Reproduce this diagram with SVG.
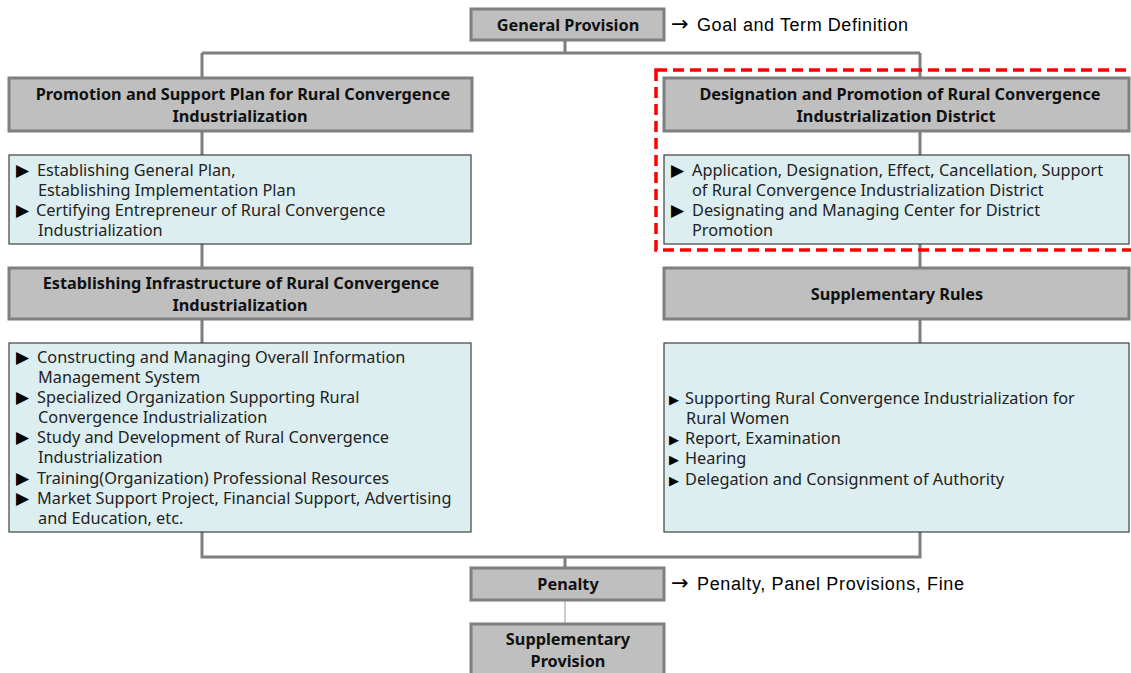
<svg xmlns="http://www.w3.org/2000/svg" width="1131" height="673" viewBox="0 0 1131 673">
<style>
.hdr{fill:#bfbfbf;stroke:#7f7f7f;stroke-width:3}
.cnt{fill:#ddeef1;stroke:#404040;stroke-width:1.2}
.ht{font-family:"Noto Sans","DejaVu Sans",sans-serif;font-weight:bold;font-size:16.3px;fill:#111;text-anchor:middle}
.ct{font-family:"Noto Sans","DejaVu Sans",sans-serif;font-size:16.3px;fill:#222}
.bl{font-family:"DejaVu Sans",sans-serif;font-size:17px;fill:#000}
.bs{font-family:"DejaVu Sans",sans-serif;font-size:13px;fill:#000}
.note{font-family:"Liberation Sans",Arial,sans-serif;font-size:18px;fill:#000}
.arr{font-family:"DejaVu Sans",sans-serif;font-size:21px;fill:#000}
.conn{fill:none;stroke:#7f7f7f;stroke-width:3}
</style>
<rect width="1131" height="673" fill="#fff"/>
<g id="connectors">
<path class="conn" d="M565 40V53M202 53H920M202 53V78M920 53V78"/>
<path class="conn" d="M202 131V155M202 244V268M202 319V343"/>
<path class="conn" d="M920 131V155M920 244V268M920 319V343"/>
<path class="conn" d="M202 532V557H920V532M565 557V568"/>
<path fill="none" stroke="#aaaaaa" stroke-width="1.2" d="M565 600V624"/>
</g>
<g id="general">
<rect class="hdr" x="471" y="9" width="193" height="31"/>
<text class="ht" x="568" y="31">General Provision</text>
<text class="arr" x="671" y="31">→</text>
<text class="note" x="697" y="31" textLength="211" lengthAdjust="spacing">Goal and Term Definition</text>
</g>
<g id="left-header-1">
<rect class="hdr" x="9" y="78" width="463" height="53"/>
<text class="ht" x="243" y="100">Promotion and Support Plan for Rural Convergence</text>
<text class="ht" x="240" y="122">Industrialization</text>
</g>
<g id="left-content-1">
<rect class="cnt" x="9" y="155" width="462" height="89"/>
<text class="bl" x="16" y="176">▶</text>
<text class="ct" x="37" y="176">Establishing General Plan,</text>
<text class="ct" x="38" y="196">Establishing Implementation Plan</text>
<text class="bl" x="16" y="216">▶</text>
<text class="ct" x="36" y="216">Certifying Entrepreneur of Rural Convergence</text>
<text class="ct" x="38" y="236">Industrialization</text>
</g>
<g id="left-header-2">
<rect class="hdr" x="9" y="268" width="463" height="51"/>
<text class="ht" x="241" y="289">Establishing Infrastructure of Rural Convergence</text>
<text class="ht" x="240" y="311">Industrialization</text>
</g>
<g id="left-content-2">
<rect class="cnt" x="9" y="343" width="462" height="189"/>
<text class="bl" x="16" y="363">▶</text>
<text class="ct" x="37" y="363">Constructing and Managing Overall Information</text>
<text class="ct" x="38" y="383">Management System</text>
<text class="bl" x="16" y="403">▶</text>
<text class="ct" x="37" y="403">Specialized Organization Supporting Rural</text>
<text class="ct" x="38" y="423">Convergence Industrialization</text>
<text class="bl" x="16" y="443">▶</text>
<text class="ct" x="37" y="443">Study and Development of Rural Convergence</text>
<text class="ct" x="38" y="463">Industrialization</text>
<text class="bl" x="16" y="484">▶</text>
<text class="ct" x="37" y="484">Training(Organization) Professional Resources</text>
<text class="bl" x="16" y="504">▶</text>
<text class="ct" x="37" y="504">Market Support Project, Financial Support, Advertising</text>
<text class="ct" x="38" y="524">and Education, etc.</text>
</g>
<g id="right-header-1">
<rect class="hdr" x="664" y="78" width="465" height="53"/>
<text class="ht" x="900" y="100">Designation and Promotion of Rural Convergence</text>
<text class="ht" x="896" y="122">Industrialization District</text>
</g>
<g id="right-content-1">
<rect class="cnt" x="664" y="155" width="465" height="89"/>
<text class="bl" x="671" y="176">▶</text>
<text class="ct" x="692" y="176">Application, Designation, Effect, Cancellation, Support</text>
<text class="ct" x="692" y="196">of Rural Convergence Industrialization District</text>
<text class="bl" x="671" y="216">▶</text>
<text class="ct" x="692" y="216">Designating and Managing Center for District</text>
<text class="ct" x="692" y="236">Promotion</text>
</g>
<rect id="highlight" x="656" y="70" width="480" height="180" fill="none" stroke="#ff0000" stroke-width="3.5" stroke-dasharray="11 6"/>
<g id="right-header-2">
<rect class="hdr" x="664" y="268" width="465" height="51"/>
<text class="ht" x="897" y="300">Supplementary Rules</text>
</g>
<g id="right-content-2">
<rect class="cnt" x="664" y="343" width="465" height="189"/>
<text class="bs" x="669" y="404">▶</text>
<text class="ct" x="685" y="404">Supporting Rural Convergence Industrialization for</text>
<text class="ct" x="686" y="424">Rural Women</text>
<text class="bs" x="669" y="444">▶</text>
<text class="ct" x="685" y="444">Report, Examination</text>
<text class="bs" x="669" y="464">▶</text>
<text class="ct" x="685" y="464">Hearing</text>
<text class="bs" x="669" y="485">▶</text>
<text class="ct" x="685" y="485">Delegation and Consignment of Authority</text>
</g>
<g id="penalty">
<rect class="hdr" x="471" y="568" width="193" height="32"/>
<text class="ht" x="568" y="590">Penalty</text>
<text class="arr" x="671" y="590">→</text>
<text class="note" x="697" y="590" textLength="267" lengthAdjust="spacing">Penalty, Panel Provisions, Fine</text>
</g>
<g id="supplementary-provision">
<rect class="hdr" x="471" y="624" width="193" height="52"/>
<text class="ht" x="568" y="645">Supplementary</text>
<text class="ht" x="568" y="667">Provision</text>
</g>
</svg>
